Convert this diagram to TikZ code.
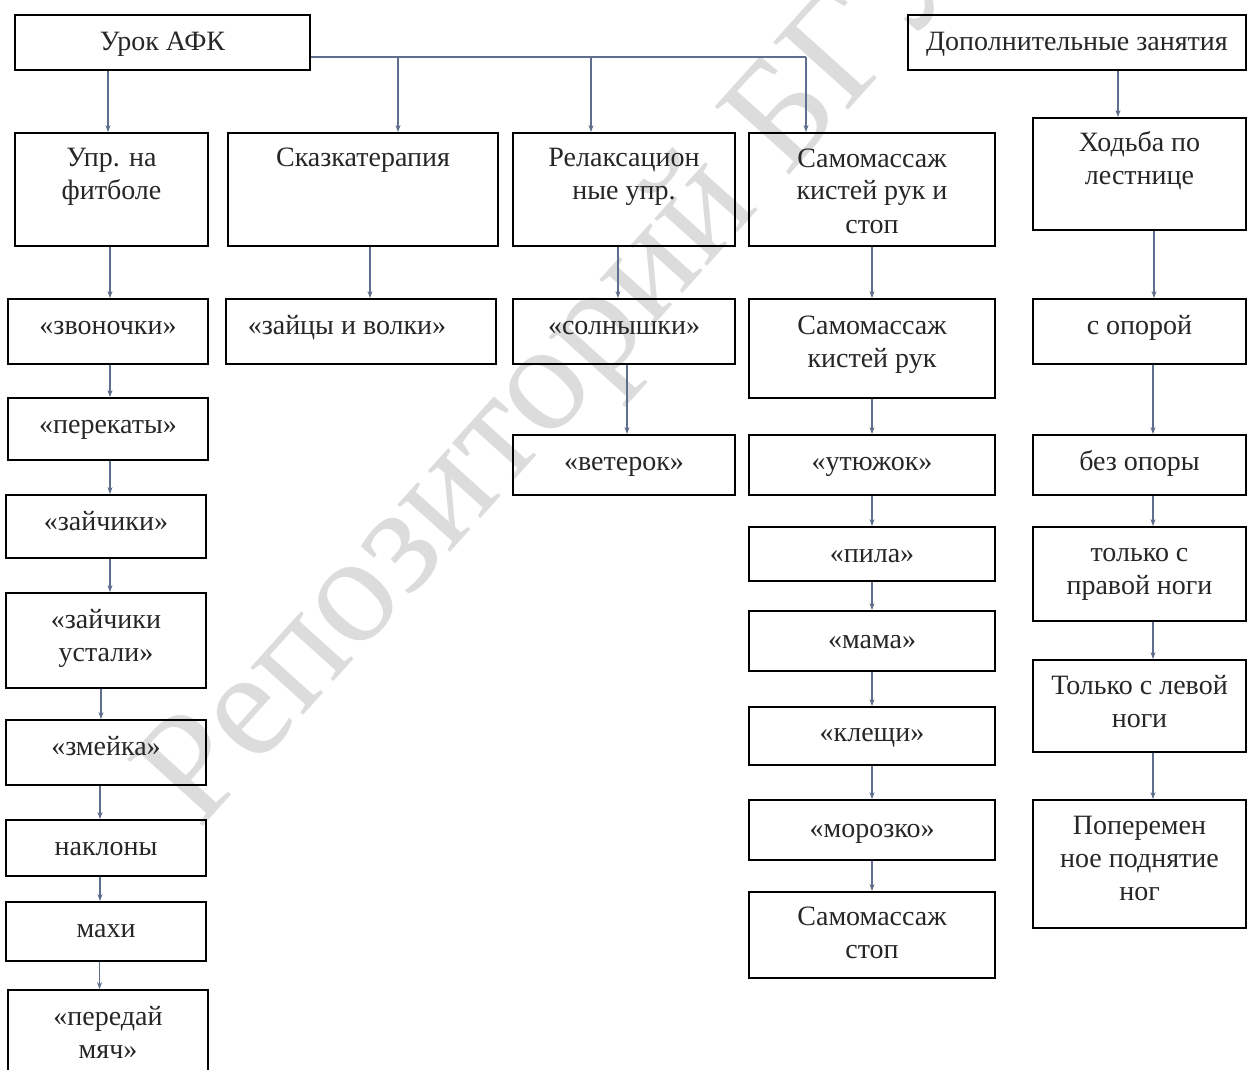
\documentclass[tikz,border=0pt]{standalone}
\usepackage{fontspec}
\setmainfont{Liberation Serif}
\usetikzlibrary{fit,arrows.meta}
\definecolor{conncol}{RGB}{95,110,140}
\definecolor{wmcol}{RGB}{220,220,220}
% #7 = baseline of the LAST text line
\newcommand\dbox[8]{%
  \node[box, fit={(#2,#3) (#4,#5)}] (#1) {};
  \node[txt] (#1-t) at (#6,#7) {#8};}
\begin{document}
\begin{tikzpicture}[x=1pt,y=-1pt,
  box/.style={draw=black, line width=1.8pt, inner sep=0pt, minimum size=0pt},
  txt/.style={anchor=base, align=center, inner sep=0pt, text=black!85,
    font=\fontsize{28}{33}\selectfont},
  line/.style={draw=conncol, line width=1.3pt},
  conn/.style={line, -{Stealth[length=7pt,width=5pt]}},
  wm/.style={text=wmcol, font=\fontsize{154}{160}\selectfont, inner sep=0pt}]
\useasboundingbox (0,0) rectangle (1248,1070);
\node[wm, rotate=48] (wm) at (562,374) {Репозиторий БГУ};
% top row
\dbox{urok}{15}{15}{310}{70}{162.5}{51}{Урок АФК}
\dbox{dop}{908}{15}{1246}{70}{1077}{51}{Дополнительные занятия}
% level 1
\dbox{upr}{15}{133}{208}{246}{111.5}{200}{Упр. на\\фитболе}
\dbox{skaz}{228}{133}{498}{246}{363}{167}{Сказкатерапия}
\dbox{relax}{513}{133}{735}{246}{624}{200}{Релаксацион\\ные упр.}
\dbox{samo}{749}{133}{995}{246}{872}{233}{Самомассаж\\кистей рук и\\стоп}
\dbox{hod}{1033}{118}{1246}{230}{1139.5}{185}{Ходьба по\\лестнице}
% level 2
\dbox{zvon}{8}{299}{208}{364}{108}{334}{«звоночки»}
\dbox{zaic}{226}{299}{496}{364}{347}{334}{«зайцы и волки»}
\dbox{soln}{513}{299}{735}{364}{624}{334}{«солнышки»}
\dbox{samok}{749}{299}{995}{398}{872}{367}{Самомассаж\\кистей рук}
\dbox{sop}{1033}{299}{1246}{364}{1139.5}{334}{с опорой}
% further
\dbox{perek}{8}{398}{208}{460}{108}{433}{«перекаты»}
\dbox{veter}{513}{435}{735}{495}{624}{470}{«ветерок»}
\dbox{utyu}{749}{435}{995}{495}{872}{470}{«утюжок»}
\dbox{bezop}{1033}{435}{1246}{495}{1139.5}{470}{без опоры}
\dbox{zaich}{6}{495}{206}{558}{106}{530}{«зайчики»}
\dbox{pila}{749}{527}{995}{581}{872}{562}{«пила»}
\dbox{prav}{1033}{527}{1246}{621}{1139.5}{594}{только с\\правой ноги}
\dbox{zust}{6}{593}{206}{688}{106}{661}{«зайчики\\устали»}
\dbox{mama}{749}{611}{995}{671}{872}{648}{«мама»}
\dbox{lev}{1033}{660}{1246}{752}{1139.5}{727}{Только с левой\\ноги}
\dbox{zmei}{6}{720}{206}{785}{106}{755}{«змейка»}
\dbox{kleshi}{749}{707}{995}{765}{872}{741}{«клещи»}
\dbox{moroz}{749}{800}{995}{860}{872}{837}{«морозко»}
\dbox{popem}{1033}{800}{1246}{928}{1139.5}{900}{Поперемен\\ное поднятие\\ног}
\dbox{nakl}{6}{820}{206}{876}{106}{855}{наклоны}
\dbox{samost}{749}{892}{995}{978}{872}{958}{Самомассаж\\стоп}
\dbox{mahi}{6}{902}{206}{961}{106}{937}{махи}
\dbox{pered}{8}{990}{208}{1100}{108}{1058}{«передай\\мяч»}
% connectors from Урок АФК
\coordinate (busR) at (806,57);
\draw[conn] ([xshift=-3.5pt]upr.north |- urok.south) -- ([xshift=-3.5pt]upr.north);
\draw[line] (urok.east |- busR) -- (busR);
\draw[conn] (busR) -- (busR |- samo.north);
\draw[conn] ([xshift=35pt]skaz.north |- busR) -- ([xshift=35pt]skaz.north);
\draw[conn] ([xshift=-33pt]relax.north |- busR) -- ([xshift=-33pt]relax.north);
\draw[conn] ([xshift=-21.5pt]hod.north |- dop.south) -- ([xshift=-21.5pt]hod.north);
% left column
\draw[conn] ([xshift=2pt]zvon.north |- upr.south) -- ([xshift=2pt]zvon.north);
\draw[conn] ([xshift=2pt]zvon.south) -- ([xshift=2pt]perek.north);
\draw[conn] ([xshift=2pt]perek.south) -- ([xshift=2pt]perek.south |- zaich.north);
\draw[conn] ([xshift=4pt]zaich.south) -- ([xshift=4pt]zust.north);
\draw[conn] ([xshift=-5pt]zust.south) -- ([xshift=-5pt]zmei.north);
\draw[conn] ([xshift=-6pt]zmei.south) -- ([xshift=-6pt]nakl.north);
\draw[conn] ([xshift=-6pt]nakl.south) -- ([xshift=-6pt]mahi.north);
\draw[conn] ([xshift=-6.5pt]mahi.south) -- ([xshift=-6.5pt]mahi.south |- pered.north);
% second column
\draw[conn] ([xshift=7pt]skaz.south) -- ([xshift=7pt]skaz.south |- zaic.north);
% third column
\draw[conn] ([xshift=-6pt]relax.south) -- ([xshift=-6pt]soln.north);
\draw[conn] ([xshift=3pt]soln.south) -- ([xshift=3pt]veter.north);
% fourth column
\draw[conn] (samo.south) -- (samok.north);
\draw[conn] (samok.south) -- (utyu.north);
\draw[conn] (utyu.south) -- (pila.north);
\draw[conn] (pila.south) -- (mama.north);
\draw[conn] (mama.south) -- (kleshi.north);
\draw[conn] (kleshi.south) -- (moroz.north);
\draw[conn] (moroz.south) -- (samost.north);
% right column
\draw[conn] ([xshift=14.5pt]hod.south) -- ([xshift=14.5pt]sop.north);
\draw[conn] ([xshift=13.5pt]sop.south) -- ([xshift=13.5pt]bezop.north);
\draw[conn] ([xshift=13.5pt]bezop.south) -- ([xshift=13.5pt]prav.north);
\draw[conn] ([xshift=13.5pt]prav.south) -- ([xshift=13.5pt]lev.north);
\draw[conn] ([xshift=13.5pt]lev.south) -- ([xshift=13.5pt]popem.north);
\end{tikzpicture}
\end{document}
